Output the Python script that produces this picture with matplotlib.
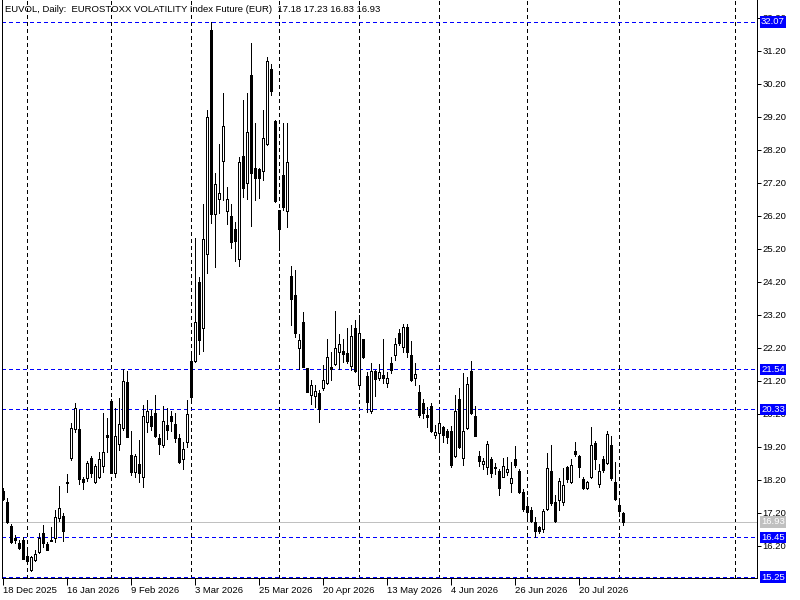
import matplotlib
matplotlib.use("Agg")
import matplotlib.pyplot as plt
import matplotlib.transforms as mtransforms
import numpy as np

# ---- data (daily OHLC, bar index 0 = 18 Dec 2025) ----
opens = [17.86, 17.52, 16.80, 16.43, 16.28, 16.37, 15.89, 15.46, 15.77, 16.01,
         16.58, 16.25, 16.37, 16.43, 17.04, 17.10, 18.13, 18.86, 19.74, 19.74,
         18.22, 18.25, 18.86, 18.13, 18.28, 18.62, 19.55, 20.59, 18.40, 19.28,
         19.77, 21.16, 18.95, 18.43, 18.68, 18.28, 19.95, 20.13, 20.22, 19.46,
         19.25, 19.86, 20.13, 19.89, 19.46, 18.83, 19.34, 21.80, 21.80, 24.19,
         22.80, 25.04, 31.83, 26.25, 26.71, 27.86, 26.34, 26.19, 25.80, 24.89,
         28.01, 27.19, 30.46, 27.65, 27.62, 27.55, 28.37, 30.65, 29.07, 26.37,
         27.43, 26.34, 24.37, 23.80, 22.19, 22.98, 21.58, 20.77, 20.74, 20.83,
         20.98, 21.13, 21.62, 21.71, 22.07, 22.10, 22.04, 21.65, 22.80, 21.07,
         22.46, 21.34, 20.28, 21.49, 21.28, 21.37, 21.13, 21.74, 21.98, 22.65,
         22.22, 22.83, 21.98, 21.28, 20.86, 20.52, 20.16, 20.43, 19.55, 19.62,
         19.80, 19.68, 19.68, 18.92, 20.65, 18.86, 19.77, 21.49, 20.13, 18.92,
         18.68, 18.59, 18.83, 18.59, 18.46, 18.28, 18.43, 18.10, 18.83, 18.46,
         17.83, 17.40, 17.28, 16.92, 16.77, 16.71, 17.31, 18.46, 17.52, 17.59,
         17.52, 18.59, 18.13, 19.07, 18.92, 18.22, 17.95, 18.28, 19.31, 18.07,
         18.83, 18.71, 19.25, 18.13, 17.43, 17.18]
highs = [17.95, 17.65, 16.86, 16.52, 16.37, 16.46, 16.13, 15.89, 16.07, 16.58,
         16.83, 16.31, 16.77, 17.28, 18.01, 17.19, 18.37, 19.92, 20.52, 20.31,
         18.28, 18.77, 18.92, 18.68, 19.04, 20.22, 20.07, 20.65, 20.37, 20.68,
         21.55, 21.49, 19.68, 18.98, 19.40, 20.46, 20.62, 20.31, 20.77, 19.58,
         20.43, 20.37, 20.28, 20.22, 19.58, 19.34, 20.62, 22.10, 25.52, 24.34,
         26.55, 29.40, 32.07, 27.49, 28.37, 29.92, 27.07, 26.55, 26.01, 27.98,
         29.71, 29.92, 31.43, 29.01, 27.65, 29.40, 31.01, 30.80, 29.10, 26.37,
         29.01, 29.01, 24.68, 24.55, 22.62, 23.28, 21.60, 21.22, 21.07, 20.92,
         21.68, 22.46, 22.07, 23.31, 22.62, 22.46, 22.80, 22.89, 23.04, 23.19,
         22.47, 21.46, 21.74, 21.52, 21.71, 22.46, 21.46, 21.92, 22.49, 22.77,
         22.92, 22.92, 22.40, 21.74, 21.07, 20.65, 20.40, 20.52, 19.86, 20.31,
         19.83, 19.74, 19.83, 20.77, 20.98, 21.43, 21.31, 21.80, 20.43, 19.07,
         18.86, 19.37, 18.89, 18.71, 18.52, 18.86, 18.89, 18.74, 19.22, 18.52,
         17.92, 17.68, 17.37, 17.07, 16.80, 17.31, 19.01, 19.25, 17.74, 18.25,
         18.56, 18.62, 18.83, 19.34, 18.95, 18.28, 18.16, 19.80, 19.37, 18.68,
         18.92, 19.68, 19.52, 18.74, 17.52, 17.23]
lows = [17.59, 16.89, 16.28, 16.28, 16.10, 15.79, 15.74, 15.43, 15.74, 15.98,
        16.16, 16.07, 16.34, 16.31, 16.95, 16.34, 17.83, 18.80, 19.65, 18.07,
        17.92, 18.16, 18.28, 18.10, 18.25, 18.43, 19.04, 18.40, 18.28, 19.10,
        19.71, 19.49, 18.34, 18.28, 18.13, 17.98, 19.65, 19.71, 19.49, 18.98,
        19.19, 19.43, 19.68, 19.34, 18.71, 18.52, 19.19, 20.62, 21.77, 22.01,
        22.10, 24.46, 25.98, 24.65, 26.28, 26.68, 25.95, 25.22, 24.83, 24.68,
        26.77, 26.71, 25.89, 26.68, 26.74, 27.28, 28.34, 29.86, 26.62, 25.16,
        26.37, 25.86, 22.89, 22.52, 21.55, 21.62, 20.85, 20.49, 20.40, 19.95,
        20.92, 21.10, 21.22, 21.68, 21.55, 21.77, 21.74, 21.52, 21.46, 21.04,
        21.89, 20.25, 20.22, 20.74, 21.22, 21.13, 21.01, 21.43, 21.83, 22.28,
        22.07, 21.92, 21.19, 21.07, 20.10, 20.07, 19.80, 19.65, 19.46, 19.13,
        19.34, 19.31, 18.59, 18.89, 19.16, 18.65, 19.74, 20.19, 19.52, 18.62,
        18.52, 18.37, 18.28, 18.37, 17.74, 18.28, 18.34, 17.83, 18.59, 17.80,
        17.25, 16.98, 16.92, 16.46, 16.58, 16.62, 17.28, 17.43, 16.92, 17.28,
        17.43, 18.13, 18.10, 18.92, 18.28, 17.92, 17.92, 18.25, 18.52, 17.98,
        18.43, 18.68, 18.19, 17.59, 17.10, 16.83]
closes = [17.62, 16.92, 16.31, 16.37, 16.13, 15.79, 15.74, 15.86, 15.95, 16.43,
          16.28, 16.07, 16.35, 17.07, 17.34, 16.65, 18.10, 19.77, 20.37, 18.22,
          18.13, 18.71, 18.40, 18.62, 18.83, 19.04, 19.49, 18.40, 19.52, 19.89,
          21.19, 19.49, 18.43, 18.92, 18.40, 20.13, 20.28, 19.83, 19.52, 19.28,
          19.98, 19.71, 19.98, 19.46, 18.74, 19.13, 20.19, 20.70, 22.98, 22.43,
          25.49, 29.19, 26.25, 27.16, 26.89, 28.92, 26.71, 25.40, 25.43, 27.83,
          27.04, 28.74, 27.49, 27.34, 27.34, 28.56, 30.89, 29.98, 26.65, 25.80,
          26.46, 27.83, 23.68, 22.65, 22.43, 21.62, 20.86, 21.07, 20.89, 20.34,
          21.22, 21.92, 21.55, 22.19, 22.31, 22.01, 21.80, 22.55, 21.49, 22.65,
          21.92, 20.55, 21.49, 21.25, 21.46, 21.28, 21.28, 21.52, 22.31, 22.34,
          22.83, 22.07, 21.22, 21.40, 20.16, 20.22, 20.10, 19.68, 19.65, 19.92,
          19.55, 19.49, 18.65, 20.28, 19.19, 19.68, 21.10, 20.22, 19.52, 18.77,
          18.77, 19.28, 18.40, 18.56, 17.95, 18.62, 18.52, 18.25, 18.65, 17.83,
          17.31, 17.22, 16.95, 16.65, 16.65, 17.25, 18.56, 17.49, 16.95, 18.16,
          18.04, 18.22, 18.65, 18.98, 18.59, 17.95, 18.13, 19.25, 18.83, 18.46,
          18.49, 19.58, 18.25, 17.62, 17.25, 16.93]

date_tick_bars = [0, 16, 32, 48, 64, 80, 96, 112, 128, 144]
date_tick_labels = ["18 Dec 2025", "16 Jan 2026", "9 Feb 2026", "3 Mar 2026",
                    "25 Mar 2026", "20 Apr 2026", "13 May 2026", "4 Jun 2026",
                    "26 Jun 2026", "20 Jul 2026"]
month_grid_bars = [6, 27, 47, 69, 89, 109, 131, 154, 183]
price_ticks = [16.20, 17.20, 18.20, 19.20, 20.20, 21.20, 22.20, 23.20, 24.20,
               25.20, 26.20, 27.20, 28.20, 29.20, 30.20, 31.20, 32.20]
hlines_blue = [32.07, 21.54, 20.33, 16.45, 15.25]
last_price = 16.93
header = "EUVOL, Daily:  EUROSTOXX VOLATILITY Index Future (EUR)  17.18 17.23 16.83 16.93"

# ---- figure ----
W, H = 800, 600
fig = plt.figure(figsize=(8, 6), dpi=100)
fig.patch.set_facecolor("white")
ax = fig.add_axes([2 / W, (H - 578) / H, (757 - 2) / W, 578 / H])
ax.set_facecolor("white")

FONT = "Liberation Sans"
FS = 6.8
PX = 0.72  # one pixel in points

o = np.array(opens); h = np.array(highs); l = np.array(lows); c = np.array(closes)
x = np.arange(len(o))

# grid
for b in month_grid_bars:
    ax.axvline(b, color="black", lw=PX, ls=(0, (3, 3)), zorder=1, antialiased=False)
for v in hlines_blue:
    ax.axhline(v, color="#0000FF", lw=PX, ls=(0, (3, 3)), zorder=1, antialiased=False)
ax.axhline(last_price, color="#C0C0C0", lw=PX, zorder=1, antialiased=False)

# candles
ax.vlines(x, l, h, color="black", lw=PX, zorder=2, antialiased=False)
bull = c >= o
bottom = np.minimum(o, c)
height = np.maximum(np.abs(c - o), 0.02)
ax.bar(x[bull], height[bull], bottom=bottom[bull], width=0.5,
       facecolor="white", edgecolor="black", linewidth=PX, zorder=3, antialiased=False)
ax.bar(x[~bull], height[~bull], bottom=bottom[~bull], width=0.5,
       facecolor="black", edgecolor="black", linewidth=PX, zorder=3, antialiased=False)

ymax = 32.07 + 22 / 33.0
ymin = 32.07 - 556 / 33.0
ax.set_ylim(ymin, ymax)
ax.set_xlim(-0.175, (757 - 2.7) / 4.0)

ax.spines["top"].set_visible(False)
for s in ["left", "right", "bottom"]:
    ax.spines[s].set_linewidth(PX)
    ax.spines[s].set_color("black")

ax.yaxis.tick_right()
ax.set_yticks(price_ticks)
ax.set_yticklabels([f"{v:.2f}" for v in price_ticks], fontsize=FS, family=FONT)
ax.tick_params(axis="y", direction="out", length=3, width=PX, pad=1)

ax.set_xticks(date_tick_bars)
ax.set_xticklabels(date_tick_labels, fontsize=FS, family=FONT)
for t in ax.get_xticklabels():
    t.set_horizontalalignment("left")
ax.tick_params(axis="x", direction="out", length=5, width=PX, pad=1)

# price boxes on the right scale
trans = mtransforms.blended_transform_factory(ax.transAxes, ax.transData)
xbox = 1.0 + 4 / 755.0
for v in hlines_blue:
    ax.text(xbox, v, f"{v:.2f}", transform=trans, ha="left", va="center",
            fontsize=FS, family=FONT, color="white", clip_on=False, zorder=5,
            bbox=dict(boxstyle="square,pad=0.15", fc="#0000FF", ec="none"))
ax.text(xbox, last_price, f"{last_price:.2f}", transform=trans, ha="left", va="center",
        fontsize=FS, family=FONT, color="white", clip_on=False, zorder=5,
        bbox=dict(boxstyle="square,pad=0.15", fc="#C0C0C0", ec="none"))

# header
ax.text(3 / 755.0, 1 - 10 / 578.0, header, transform=ax.transAxes, ha="left",
        va="center", fontsize=FS, family=FONT, color="black", zorder=6)

fig.savefig("out.png", dpi=100, facecolor="white")
